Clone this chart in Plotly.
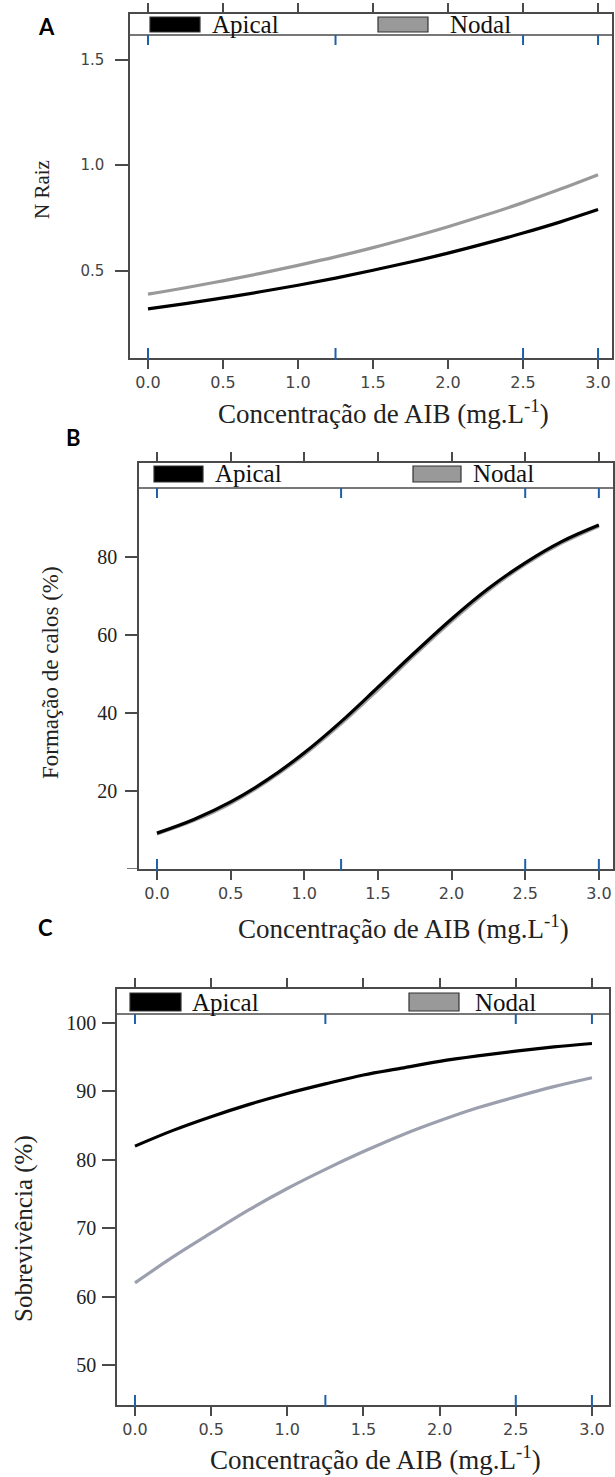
import plotly.graph_objects as go

W, H = 615, 1477

# ---------------- data ----------------
conc = [0.0, 0.25, 0.5, 0.75, 1.0, 1.25, 1.5, 1.75, 2.0, 2.25, 2.5, 2.75, 3.0]
rug_x = [0.0, 1.25, 2.5, 3.0]

raiz_apical = [0.320, 0.345, 0.372, 0.401, 0.432, 0.466, 0.503, 0.542, 0.584, 0.630, 0.679, 0.732, 0.790]
raiz_nodal = [0.390, 0.420, 0.453, 0.488, 0.526, 0.566, 0.610, 0.658, 0.709, 0.764, 0.823, 0.887, 0.955]

calos_apical = [9.2, 12.7, 17.2, 22.9, 29.8, 37.8, 46.6, 55.5, 64.1, 71.9, 78.5, 84.0, 88.2]
calos_nodal = [9.0, 12.4, 16.8, 22.5, 29.3, 37.2, 45.9, 54.9, 63.5, 71.4, 78.1, 83.6, 87.9]

sobrev_apical = [82.0, 84.3, 86.3, 88.1, 89.7, 91.1, 92.4, 93.4, 94.4, 95.2, 95.9, 96.5, 97.0]
sobrev_nodal = [62.0, 65.8, 69.3, 72.7, 75.8, 78.6, 81.2, 83.6, 85.7, 87.6, 89.2, 90.7, 92.0]

x_tickvals = [0.0, 0.5, 1.0, 1.5, 2.0, 2.5, 3.0]
x_ticktext = ["0.0", "0.5", "1.0", "1.5", "2.0", "2.5", "3.0"]

yA_tickvals = [0.5, 1.0, 1.5]
yA_ticktext = ["0.5", "1.0", "1.5"]
yB_tickvals = [20, 40, 60, 80]
yB_ticktext = ["20", "40", "60", "80"]
yB_unlabelled_tick = [0]
yC_tickvals = [50, 60, 70, 80, 90, 100]
yC_ticktext = ["50", "60", "70", "80", "90", "100"]

series_names = ["Apical", "Nodal"]
x_title = "Concentração de AIB (mg.L<sup>-1</sup>)"

# ---------------- styling / layout ----------------
SERIF = "Liberation Serif, Times New Roman, serif"
SANS = "DejaVu Sans, Arial, sans-serif"
BOLD = "Lato, Open Sans, sans-serif"
AXC = "#4a4a4a"
RUG = "#1f5fa8"


def px(x):
    return x / W


def py(y):
    return 1 - y / H


panels = [
    dict(key="A", x0=130, x1=612, ytop=14, ybot=358, strip=35,
         xr=[-0.12, 3.093], yr=[0.0877, 1.7156],
         ys=[raiz_apical, raiz_nodal], cols=["#000000", "#999999"],
         ytv=yA_tickvals, ytt=yA_ticktext, extra_ticks=[],
         yfont=dict(family=SANS, size=15, color="#444"),
         yticklen=13, ystand=8,
         ytitle="N Raiz", ytitle_pos=(42, 190), ytitle_size=21,
         xtitle_pos=(383, 412), letter_pos=(47, 27),
         leg=dict(r1=(150, 200), r2=(378, 428), ry=(17, 32), t1=210, t2=448)),
    dict(key="B", x0=139, x1=613, ytop=463, ybot=869, strip=488,
         xr=[-0.122, 3.096], yr=[0, 104.1],
         ys=[calos_apical, calos_nodal], cols=["#000000", "#a0a0a0"],
         ytv=yB_tickvals, ytt=yB_ticktext, extra_ticks=yB_unlabelled_tick,
         yfont=dict(family=SERIF, size=20, color="#222"),
         yticklen=12, ystand=4,
         ytitle="Formação de calos (%)", ytitle_pos=(50, 673), ytitle_size=23,
         xtitle_pos=(403, 927), letter_pos=(73, 437),
         leg=dict(r1=(154, 203), r2=(413, 461), ry=(466, 482), t1=213, t2=471)),
    dict(key="C", x0=117, x1=609, ytop=989, ybot=1405, strip=1014,
         xr=[-0.118, 3.112], yr=[44.15, 104.97],
         ys=[sobrev_apical, sobrev_nodal], cols=["#000000", "#9c9fae"],
         ytv=yC_tickvals, ytt=yC_ticktext, extra_ticks=[],
         yfont=dict(family=SERIF, size=20, color="#222"),
         yticklen=13, ystand=2,
         ytitle="Sobrevivência (%)", ytitle_pos=(24, 1229), ytitle_size=25,
         xtitle_pos=(375, 1458), letter_pos=(45, 927),
         leg=dict(r1=(130, 181), r2=(409, 459), ry=(993, 1011), t1=190, t2=473)),
]

fig = go.Figure()
shapes = []
annotations = []
layout = dict(width=W, height=H, margin=dict(l=0, r=0, t=0, b=0),
              paper_bgcolor="white", plot_bgcolor="white", showlegend=False)

for i, p in enumerate(panels):
    n = "" if i == 0 else str(i + 1)
    xa, ya = "x" + n, "y" + n
    # draw Nodal first so Apical sits on top
    for name, yv, col in reversed(list(zip(series_names, p["ys"], p["cols"]))):
        fig.add_trace(go.Scatter(x=conc, y=yv, mode="lines", name=name,
                                 line=dict(color=col, width=3.2, shape="spline"),
                                 xaxis=xa, yaxis=ya))
    layout["xaxis" + n] = dict(
        domain=[px(p["x0"]), px(p["x1"])], anchor=ya, range=p["xr"],
        tickvals=x_tickvals, ticktext=x_ticktext, ticks="outside", ticklen=9,
        tickwidth=1.5, tickcolor=AXC, showline=True, linecolor=AXC, linewidth=1.5,
        mirror="ticks", showgrid=False, zeroline=False,
        tickfont=dict(family=SANS, size=16, color="#444"))
    layout["yaxis" + n] = dict(
        domain=[py(p["ybot"]), py(p["ytop"])], anchor=xa, range=p["yr"],
        tickvals=p["ytv"], ticktext=p["ytt"], ticks="outside", ticklen=p["yticklen"],
        tickwidth=1.5, tickcolor=AXC, showline=True, linecolor=AXC, linewidth=1.5,
        mirror=True, showgrid=False, zeroline=False, tickfont=p["yfont"],
        ticklabelstandoff=p["ystand"])
    dom_h = p["ybot"] - p["ytop"]
    dom_w = p["x1"] - p["x0"]
    # unlabelled y ticks
    for tv in p["extra_ticks"]:
        shapes.append(dict(type="line", xref=xa + " domain", yref=ya,
                           x0=-p["yticklen"] / dom_w, x1=0, y0=tv, y1=tv,
                           line=dict(color=AXC, width=1.5)))
    strip_frac = (p["ybot"] - p["strip"]) / dom_h
    # strip (key) separator
    shapes.append(dict(type="line", xref=xa + " domain", yref=ya + " domain",
                       x0=0, x1=1, y0=strip_frac, y1=strip_frac,
                       line=dict(color=AXC, width=1.5)))
    # rug marks (bottom and top inside the panel)
    rl = 10 / dom_h
    for rx in rug_x:
        shapes.append(dict(type="line", xref=xa, yref=ya + " domain", x0=rx, x1=rx,
                           y0=-2 / dom_h, y1=rl, line=dict(color=RUG, width=2)))
        shapes.append(dict(type="line", xref=xa, yref=ya + " domain", x0=rx, x1=rx,
                           y0=strip_frac - rl, y1=strip_frac, line=dict(color=RUG, width=2)))
    # key swatches and labels
    lg = p["leg"]
    sw_fill = ["#000000", "#999999"]
    for (rx0, rx1), fill, tx, name in zip([lg["r1"], lg["r2"]], sw_fill,
                                          [lg["t1"], lg["t2"]], series_names):
        shapes.append(dict(type="rect", xref="paper", yref="paper",
                           x0=px(rx0), x1=px(rx1), y0=py(lg["ry"][1]), y1=py(lg["ry"][0]),
                           fillcolor=fill, line=dict(color="#333", width=1.2)))
        annotations.append(dict(text=name, xref="paper", yref="paper", x=px(tx),
                                y=py((lg["ry"][0] + lg["ry"][1]) / 2), xanchor="left",
                                yanchor="middle", showarrow=False,
                                font=dict(family=SERIF, size=25, color="#111")))
    # axis titles
    annotations.append(dict(text=x_title, xref="paper", yref="paper",
                            x=px(p["xtitle_pos"][0]), y=py(p["xtitle_pos"][1]),
                            xanchor="center", yanchor="middle", showarrow=False,
                            font=dict(family=SERIF, size=27, color="#222")))
    annotations.append(dict(text=p["ytitle"], xref="paper", yref="paper",
                            x=px(p["ytitle_pos"][0]), y=py(p["ytitle_pos"][1]),
                            xanchor="center", yanchor="middle", textangle=-90,
                            showarrow=False,
                            font=dict(family=SERIF, size=p["ytitle_size"], color="#222")))
    # panel letter
    annotations.append(dict(text=p["key"], xref="paper", yref="paper",
                            x=px(p["letter_pos"][0]), y=py(p["letter_pos"][1]),
                            xanchor="center", yanchor="middle", showarrow=False,
                            font=dict(family=BOLD, size=22, color="#000", weight="bold")))

layout["shapes"] = shapes
layout["annotations"] = annotations
fig.update_layout(**layout)
fig.write_html("out.html")
